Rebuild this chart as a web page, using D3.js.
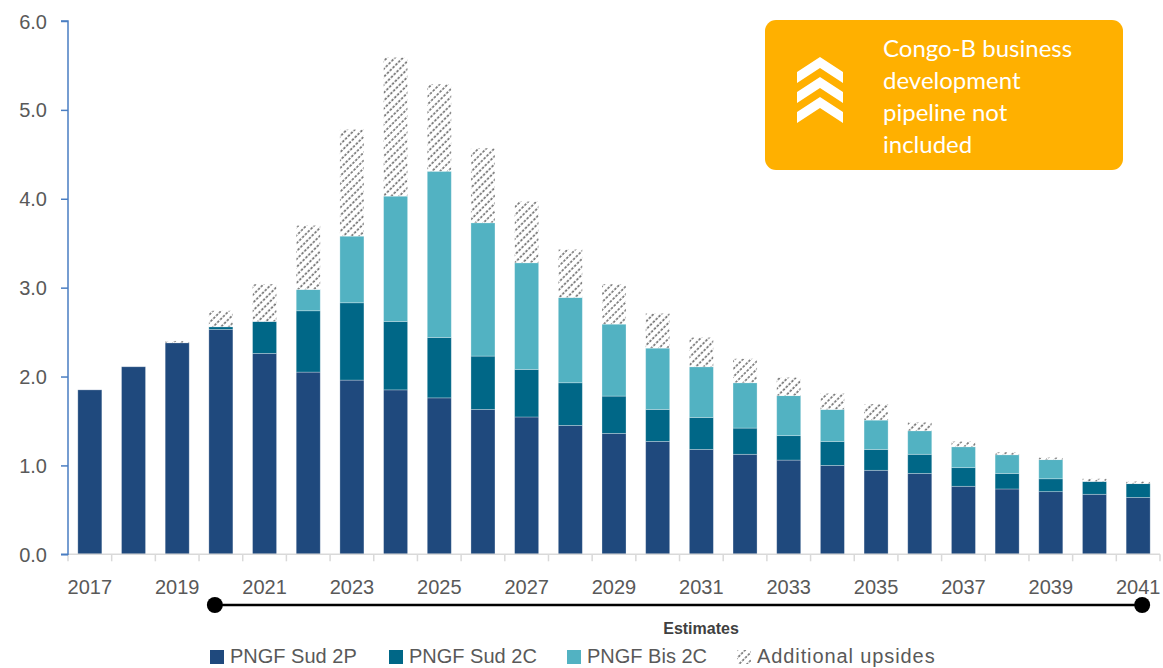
<!DOCTYPE html>
<html>
<head>
<meta charset="utf-8">
<script src="https://cdn.jsdelivr.net/npm/d3@7"></script>
<style>
  html, body { margin: 0; padding: 0; background: #fff; }
  svg { display: block; }
</style>
</head>
<body>
<svg id="chart" width="1163" height="668"></svg>
<script>
const years = [2017,2018,2019,2020,2021,2022,2023,2024,2025,2026,2027,2028,2029,2030,2031,2032,2033,2034,2035,2036,2037,2038,2039,2040,2041];
const sud2P = [1.85,2.11,2.38,2.53,2.26,2.05,1.96,1.85,1.76,1.63,1.545,1.45,1.36,1.27,1.18,1.125,1.06,1.00,0.945,0.91,0.765,0.735,0.705,0.675,0.64];
const sud2C = [0,0,0,0.03,0.36,0.69,0.87,0.77,0.68,0.60,0.535,0.48,0.42,0.36,0.36,0.295,0.275,0.27,0.235,0.215,0.21,0.175,0.145,0.145,0.155];
const bis2C = [0,0,0,0,0,0.24,0.75,1.41,1.87,1.50,1.20,0.96,0.81,0.69,0.57,0.51,0.45,0.36,0.33,0.265,0.235,0.21,0.215,0,0];
const upsides = [0,0,0.02,0.18,0.42,0.72,1.20,1.56,0.98,0.84,0.69,0.54,0.45,0.39,0.33,0.27,0.205,0.18,0.18,0.095,0.06,0.03,0.025,0.03,0.025];
const seriesNames = ["PNGF Sud 2P","PNGF Sud 2C","PNGF Bis 2C","Additional upsides"];
const yTicks = [0,1,2,3,4,5,6];
const noteLines = ["Congo-B business","development","pipeline not","included"];
const timelineLabel = "Estimates";
const timelineStart = 2020, timelineEnd = 2041;

const colors = ["#1F497D","#006787","#52B2C2","url(#hatch)"];

const svg = d3.select("#chart");
const defs = svg.append("defs");
const pat = defs.append("pattern").attr("id","hatch").attr("patternUnits","userSpaceOnUse")
  .attr("width",5.6).attr("height",4).attr("patternTransform","rotate(45)");
pat.append("rect").attr("x",-1).attr("y",-1).attr("width",8).attr("height",6).attr("fill","#fff");
pat.append("line").attr("x1",1).attr("x2",1).attr("y1",0).attr("y2",4)
  .attr("stroke","#6a6a6a").attr("stroke-width",1.6).attr("stroke-dasharray","2.6,1.4");

const mLeft = 68, mRight = 1160, mTop = 21, mBottom = 554.3;
const x = d3.scaleBand().domain(years).range([mLeft, mRight]).paddingInner(0.45).paddingOuter(0.225);
const y = d3.scaleLinear().domain([0,6]).range([mBottom, mTop]);

const table = years.map((yr,i)=>({year:yr, s0:sud2P[i], s1:sud2C[i], s2:bis2C[i], s3:upsides[i]}));
const stack = d3.stack().keys(["s0","s1","s2","s3"])(table);

svg.append("g").selectAll("g").data(stack).join("g")
  .attr("fill",(d,i)=>colors[i])
  .selectAll("rect").data(d=>d.filter(p=>p[1]-p[0]>0)).join("rect")
  .attr("x",d=>x(d.data.year))
  .attr("width",x.bandwidth())
  .attr("y",d=>y(d[1]))
  .attr("height",d=>y(d[0])-y(d[1]))
  .attr("stroke","rgba(255,255,255,0.35)")
  .attr("stroke-width",0.8);

// x axis baseline and band-edge ticks
const gx = svg.append("g");
gx.append("line").attr("x1",mLeft).attr("x2",mRight).attr("y1",mBottom).attr("y2",mBottom)
  .attr("stroke","#d9d9d9").attr("stroke-width",1.5);
const gap = x.step()*x.paddingInner()/2;
const edges = years.map(yv=>x(yv)-gap).concat([mRight]);
gx.selectAll("line.tk").data(edges).join("line").attr("class","tk")
  .attr("x1",d=>d).attr("x2",d=>d).attr("y1",mBottom).attr("y2",mBottom+7)
  .attr("stroke","#d9d9d9").attr("stroke-width",1.5);

const xAxis = d3.axisBottom(x).tickSize(0).tickPadding(0)
  .tickFormat((d,i)=> i%2===0 ? String(d) : "");
const gxl = svg.append("g").attr("transform",`translate(0,${mBottom})`).call(xAxis);
gxl.select(".domain").remove();
gxl.selectAll("text").attr("dy",null).attr("y",40)
  .attr("font-family","Liberation Sans, Arial, sans-serif").attr("font-size",20).attr("fill","#595959");

// y axis
const yAxis = d3.axisLeft(y).tickValues(yTicks).tickFormat(d3.format(".1f")).tickSize(7).tickPadding(14);
const gy = svg.append("g").attr("transform",`translate(${mLeft},0)`).call(yAxis);
gy.select(".domain").attr("stroke","#4A7EC2").attr("stroke-width",1.5).attr("d",`M-7,${mTop}H0V${mBottom}H-7`);
gy.selectAll(".tick line").attr("stroke","#4A7EC2").attr("stroke-width",1.5);
gy.selectAll("text").attr("font-family","Liberation Sans, Arial, sans-serif").attr("font-size",20)
  .attr("fill","#595959").attr("dy","0.35em");

// timeline
const tx1 = x(timelineStart) + 6, tx2 = x(timelineEnd) + x.bandwidth()/2 + 4;
svg.append("line").attr("x1",tx1).attr("x2",tx2).attr("y1",605).attr("y2",605)
  .attr("stroke","#000").attr("stroke-width",2.5);
svg.selectAll("ellipse.end").data([tx1,tx2]).join("ellipse").attr("class","end")
  .attr("cx",d=>d).attr("cy",605).attr("rx",8).attr("ry",8).attr("fill","#000");
svg.append("text").attr("x",701).attr("y",634).attr("text-anchor","middle")
  .attr("font-family","Liberation Sans, Arial, sans-serif").attr("font-weight","bold")
  .attr("font-size",16).attr("fill","#404040").text(timelineLabel);

// legend
const legX = [210, 389, 567, 737];
const lg = svg.append("g");
seriesNames.forEach((n,i)=>{
  lg.append("rect").attr("x",legX[i]).attr("y",650).attr("width",14).attr("height",14)
    .attr("fill",colors[i]);
  lg.append("text").attr("x",legX[i]+20).attr("y",663)
    .attr("font-family","Liberation Sans, Arial, sans-serif").attr("font-size",20)
    .attr("letter-spacing", i===3 ? 0.9 : 0)
    .attr("fill","#595959").text(n);
});

// note box
const nb = svg.append("g");
nb.append("rect").attr("x",765).attr("y",20).attr("width",358).attr("height",150)
  .attr("rx",11).attr("fill","#FFB000");
[0,1,2].forEach(k=>{
  const o = k*20;
  nb.append("path").attr("d",`M797,${72+o} L820,${57+o} L843,${72+o} L843,${83+o} L820,${68+o} L797,${83+o} Z`)
    .attr("fill","#fff");
});
noteLines.forEach((t,i)=>{
  nb.append("text").attr("x",883).attr("y",57+i*32).attr("font-family","Lato, Open Sans, sans-serif")
    .attr("font-size",24).attr("fill","#fff").text(t);
});
</script>
</body>
</html>
